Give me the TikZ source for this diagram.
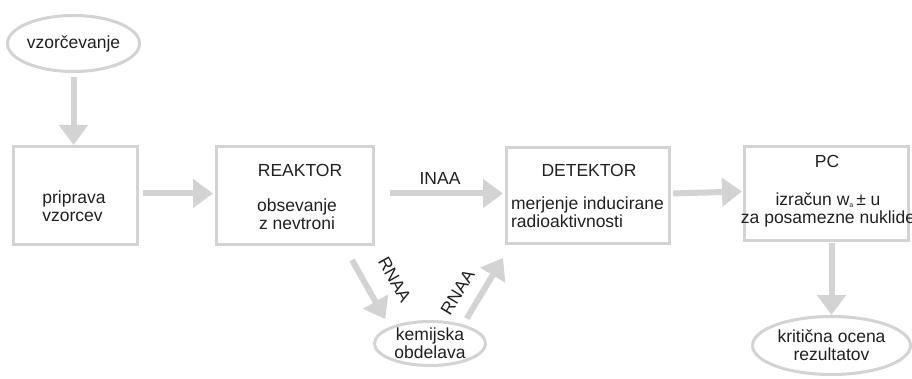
\documentclass[tikz,border=0pt]{standalone}
\usepackage{fontspec}
\setmainfont{Liberation Sans}
\usetikzlibrary{shapes.geometric, arrows.meta, positioning, calc}
\definecolor{flowgray}{RGB}{211, 211, 211}
\definecolor{inkgray}{RGB}{35, 31, 32}

\begin{document}
\begin{tikzpicture}[x=1pt, y=-1pt,
  every node/.style={font=\fontsize{17.5}{18}\selectfont, text=inkgray},
  stagebox/.style={draw=flowgray, line width=3pt, rectangle, inner sep=0pt},
  stageoval/.style={draw=flowgray, line width=3pt, ellipse, inner sep=0pt, align=center},
  flow/.style={draw=flowgray, line width=6pt, -{Triangle[width=28pt, length=20pt]}}]
  \useasboundingbox (0,0) rectangle (912,379);

  % ovals
  \node[stageoval, minimum width=125pt, minimum height=56pt] (vzor) at (73.5,43.5) {vzorčevanje};
  \node[stageoval, minimum width=111pt, minimum height=44pt] (kemijska) at (430,343.5) {kemijska\\obdelava};
  \node[stageoval, minimum width=158pt, minimum height=58pt] (kriticna) at (831.5,345.5) {kritična ocena\\rezultatov};

  % boxes
  \node[stagebox, minimum width=124pt, minimum height=98pt] (priprava) at (75.5,195.5) {};
  \node[align=left] (tpriprava) at (74,206) {priprava\\vzorcev};

  \node[stagebox, minimum width=157pt, minimum height=98pt] (reaktor) at (295,195.5) {};
  \node[anchor=base] (treaktor) at (300,176.7) {REAKTOR};
  \node[align=center] (breaktor) at (297,213.8) {obsevanje\\z nevtroni};

  \node[stagebox, minimum width=163pt, minimum height=96pt] (detektor) at (588,195.5) {};
  \node[anchor=base] (tdetektor) at (589,176.7) {DETEKTOR};
  \node[align=left] (bdetektor) at (587.5,212.6) {merjenje inducirane\\radioaktivnosti};

  \node[stagebox, minimum width=164pt, minimum height=94pt] (pc) at (826.5,193.5) {};
  \node[anchor=base] (tpc) at (827,168) {PC};
  \node[align=center] (bpc) at (828,209.5) {izračun w\raisebox{-2pt}{\fontsize{7}{7}\selectfont a}\,± u\\za posamezne nuklide};

  % arrows
  \coordinate (rnaaout) at (352,260);
  \coordinate (rnaain) at (503,258);
  \draw[flow, shorten <=4pt] (vzor) -- (vzor |- priprava.north);
  \draw[flow, shorten <=4pt, shorten >=2pt] ([yshift=2pt]priprava.east) -- ([yshift=2pt]reaktor.west);
  \draw[flow, shorten <=15pt, shorten >=2pt] ([yshift=2pt]reaktor.east) -- node[above=3pt] (inaa) {INAA} ([yshift=2pt]detektor.west);
  \draw[flow, shorten <=2pt, shorten >=1pt] ([yshift=2pt]detektor.east) -- ([yshift=2pt]pc.west);
  \draw[flow, shorten <=1pt] (kriticna |- pc.south) -- (kriticna.north);
  \draw[flow, shorten >=9pt] (rnaaout) -- node[sloped, above=15pt] (rnaaa) {RNAA} (kemijska.north west);
  \draw[flow, shorten <=7pt] (kemijska.30) -- node[sloped, pos=0.32, above=9pt] (rnaab) {RNAA} (rnaain);
\end{tikzpicture}
\end{document}
